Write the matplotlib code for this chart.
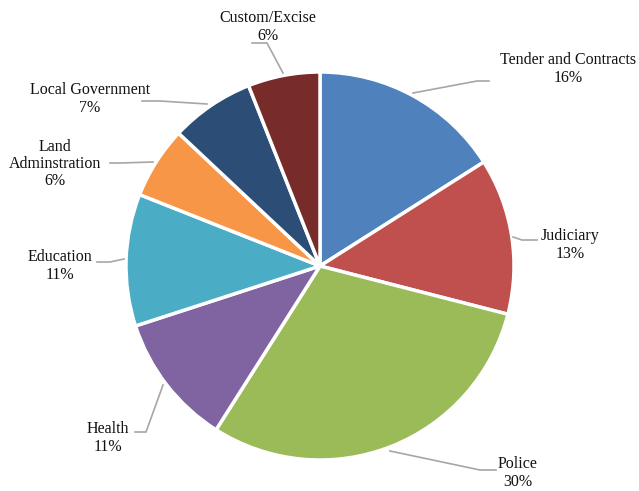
import matplotlib
matplotlib.use("Agg")
import matplotlib.pyplot as plt

categories = ["Tender and Contracts", "Judiciary", "Police", "Health",
              "Education", "Land\nAdminstration", "Local Government", "Custom/Excise"]
shares = [16, 13, 30, 11, 11, 6, 7, 6]
colors = ["#4F81BD", "#C0504D", "#9BBB59", "#8064A2",
          "#4BACC6", "#F79646", "#2C4D75", "#772C2A"]

W, H = 639, 491
cx, cy, R = 320, 266, 194

fig = plt.figure(figsize=(W / 100, H / 100), dpi=100)
ax = fig.add_axes([(cx - R) / W, (H - cy - R) / H, 2 * R / W, 2 * R / H])

ax.pie(shares, colors=colors, startangle=90, counterclock=False, radius=1,
       wedgeprops=dict(edgecolor="white", linewidth=2.5))
ax.set_xlim(-1, 1)
ax.set_ylim(-1, 1)
ax.set_aspect("equal")
ax.axis("off")


def to_data(px, py):
    return (px - cx) / R, (cy - py) / R


# label placement (pixel positions) and leader polylines
label_pos = [(568, 69), (570, 245), (518, 473), (108, 438),
             (60, 266), (55, 164), (90, 99), (268, 27)]
leaders = [
    [(413, 93), (477, 81), (489, 81)],
    [(513, 237), (522, 240), (537, 240)],
    [(390, 451), (480, 470), (496, 470)],
    [(163, 385), (146, 432), (135, 432)],
    [(124, 259), (110, 262), (97, 262)],
    [(153, 162), (120, 163), (110, 163)],
    [(207, 104), (160, 101), (142, 101)],
    [(283, 73), (267, 43), (252, 43)],
]

for name, val, (px, py), pts in zip(categories, shares, label_pos, leaders):
    x, y = to_data(px, py)
    ax.text(x, y, f"{name}\n{val}%", ha="center", va="center",
            fontsize=11.5, family="Liberation Serif", color="#111111",
            linespacing=1.1, clip_on=False)
    xs, ys = zip(*[to_data(a, b) for a, b in pts])
    ax.plot(xs, ys, color="#A6A6A6", lw=1.2, clip_on=False,
            solid_joinstyle="miter")

fig.savefig("out.png", dpi=100)
